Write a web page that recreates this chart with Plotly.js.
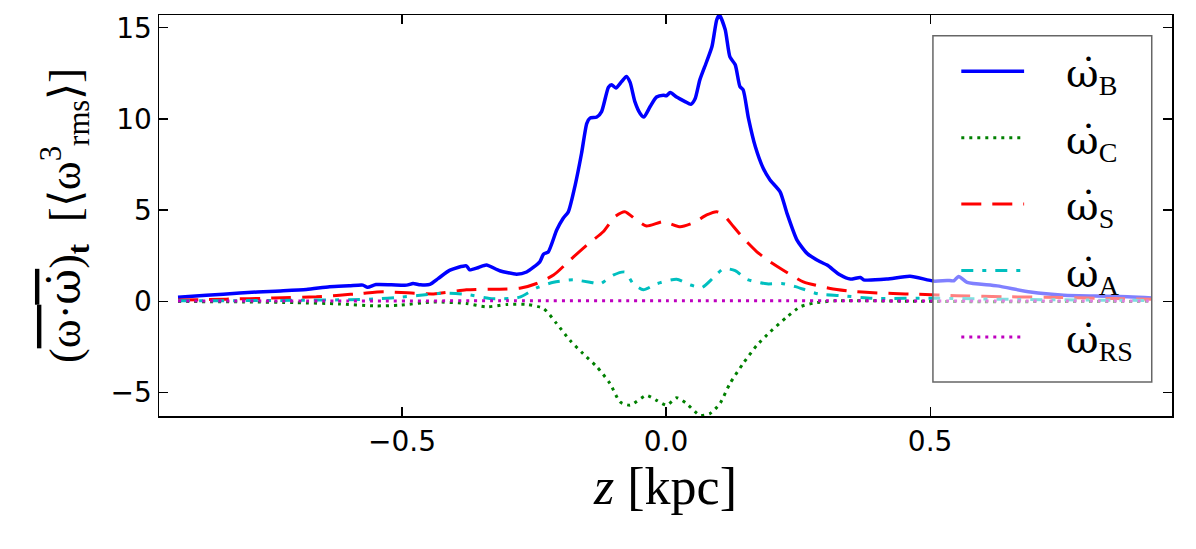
<!DOCTYPE html>
<html>
<head>
<meta charset="utf-8">
<script src="https://cdn.plot.ly/plotly-3.0.1.min.js"></script>
<style>
  html, body { margin: 0; padding: 0; background: #fff; }
  #graphe { width: 1196px; height: 549px; }
</style>
</head>
<body>
<div id="graphe"></div>
<script>
// valeurs : z en kpc, production en <omega_rms^3>
let z_B = [-0.924, -0.87, -0.807, -0.74, -0.681, -0.637, -0.60, -0.574, -0.565, -0.549, -0.52, -0.491, -0.479, -0.465, -0.447,
    -0.431, -0.409, -0.378, -0.372, -0.355, -0.340, -0.315, -0.283, -0.264, -0.239, -0.232, -0.223, -0.207, -0.195, -0.185,
    -0.172, -0.160, -0.150, -0.144, -0.131, -0.122, -0.109, -0.103, -0.095, -0.084, -0.075, -0.068, -0.059, -0.049, -0.042,
    -0.030, -0.018, -0.005, 0.001, 0.008, 0.020, 0.036, 0.047, 0.055, 0.064, 0.077, 0.087, 0.096, 0.101, 0.112, 0.121,
    0.131, 0.140, 0.146, 0.156, 0.169, 0.184, 0.197, 0.216, 0.229, 0.248, 0.267, 0.292, 0.305, 0.330, 0.349, 0.368, 0.374,
    0.418, 0.462, 0.507, 0.532, 0.545, 0.554, 0.570, 0.627, 0.690, 0.753, 0.848, 0.920]
let w_B = [0.22, 0.32, 0.45, 0.55, 0.64, 0.79, 0.84, 0.88, 0.76, 0.91, 0.90, 0.88, 0.97, 0.90, 0.92,
    1.25, 1.70, 1.94, 1.72, 1.85, 1.98, 1.67, 1.48, 1.60, 2.16, 2.58, 2.70, 3.90, 4.54, 4.90,
    6.37, 8.10, 9.76, 10.04, 10.10, 10.40, 11.74, 11.87, 11.70, 12.05, 12.33, 12.00, 10.95, 10.30, 10.10,
    10.68, 11.20, 11.30, 11.27, 11.45, 11.20, 10.95, 10.80, 11.10, 12.14, 13.15, 13.97, 15.44, 15.70, 14.90, 13.40,
    12.97, 11.77, 11.60, 10.04, 8.48, 7.29, 6.65, 6.00, 4.82, 3.35, 2.62, 2.16, 1.98, 1.43, 1.21, 1.30, 1.17,
    1.21, 1.37, 1.10, 1.14, 1.12, 1.36, 1.03, 0.84, 0.50, 0.33, 0.27, 0.18]

let z_C = [-0.924, -0.80, -0.70, -0.62, -0.55, -0.504, -0.44, -0.378, -0.34, -0.30, -0.264, -0.232, -0.207, -0.182, -0.157,
    -0.131, -0.106, -0.087, -0.068, -0.037, -0.018, 0.001, 0.020, 0.039, 0.064, 0.083, 0.102, 0.121, 0.146, 0.172,
    0.197, 0.229, 0.254, 0.279, 0.32, 0.45, 0.60, 0.75, 0.92]
let w_C = [-0.02, -0.04, -0.08, -0.15, -0.26, -0.22, -0.04, -0.13, -0.31, -0.18, -0.18, -0.40, -1.23, -2.15, -2.88,
    -3.60, -4.52, -5.53, -5.71, -5.17, -5.44, -5.71, -5.30, -5.62, -6.26, -6.17, -5.62, -4.52, -3.42, -2.42,
    -1.69, -0.86, -0.31, -0.11, 0.02, 0.00, -0.03, -0.02, -0.01]

let z_S = [-0.924, -0.833, -0.744, -0.662, -0.618, -0.577, -0.536, -0.49, -0.44, -0.378, -0.315, -0.277, -0.245, -0.213,
    -0.182, -0.150, -0.119, -0.097, -0.078, -0.056, -0.037, -0.005, 0.027, 0.052, 0.077, 0.096, 0.109, 0.128, 0.147,
    0.172, 0.197, 0.222, 0.260, 0.311, 0.349, 0.393, 0.43, 0.475, 0.55, 0.65, 0.75, 0.85, 0.92]
let w_S = [0.06, 0.11, 0.17, 0.24, 0.33, 0.42, 0.51, 0.46, 0.40, 0.62, 0.66, 0.71, 0.97, 1.43,
    2.25, 3.08, 3.81, 4.63, 4.91, 4.45, 4.12, 4.36, 4.08, 4.30, 4.73, 4.91, 4.73, 4.08, 3.44,
    2.71, 2.16, 1.70, 1.06, 0.70, 0.55, 0.46, 0.42, 0.38, 0.30, 0.24, 0.20, 0.14, 0.10]

let z_A = [-0.924, -0.80, -0.70, -0.60, -0.55, -0.504, -0.47, -0.422, -0.378, -0.327, -0.277, -0.245, -0.213, -0.176,
    -0.144, -0.125, -0.100, -0.078, -0.062, -0.043, -0.018, 0.020, 0.045, 0.068, 0.090, 0.109, 0.131, 0.153, 0.191,
    0.219, 0.245, 0.288, 0.336, 0.39, 0.51, 0.65, 0.80, 0.92]
let w_A = [0.02, 0.03, 0.05, 0.08, 0.12, 0.22, 0.31, 0.44, 0.37, 0.13, 0.22, 0.73, 1.04, 1.17,
    1.04, 0.95, 1.43, 1.60, 0.95, 0.62, 0.95, 1.20, 0.90, 0.75, 1.30, 1.78, 1.68, 1.20, 0.95,
    0.97, 0.80, 0.40, 0.29, 0.16, 0.16, 0.10, 0.06, 0.04]

let z_RS = [-0.924, -0.6, -0.3, 0.0, 0.3, 0.6, 0.924]
let w_RS = [0.01, 0.01, 0.02, 0.02, 0.02, 0.01, 0.01]

let omega_point = "<span style='font-family:DejaVu Serif'>ω̇</span>"
let indices = ["B", "C", "S", "A", "RS"]
let noms = indices.map(k => omega_point + "<sub>" + k + "</sub>")
let y_ticks = [-5, 0, 5, 10, 15]
let x_ticks = [-0.5, 0.0, 0.5]
let x_ticktext = ["−0.5", "0.0", "0.5"]

let series = [
    {x: z_B, y: w_B, color: "#0000ff", dash: "solid", width: 3.5},
    {x: z_C, y: w_C, color: "#008000", dash: "3px,5px", width: 3},
    {x: z_S, y: w_S, color: "#ff0000", dash: "20px,11px", width: 3},
    {x: z_A, y: w_A, color: "#00bfbf", dash: "12px,9px,4px,9px", width: 3},
    {x: z_RS, y: w_RS, color: "#bf00bf", dash: "3px,5px", width: 3}
]

let data = []
for (let i = 0; i < series.length; i++){
    let s = series[i]
    data.push({
        x: s.x, y: s.y, mode: "lines", type: "scatter", name: noms[i], showlegend: false,
        line: {color: s.color, dash: s.dash, width: s.width, shape: "spline", smoothing: 0.6}
    })
}

// legende dessinee a la main (echantillons de 63 px comme matplotlib)
let shapes = []
let annotations = []
let leg_x0 = 0.764, leg_x1 = 0.980, leg_y0 = 0.085, leg_y1 = 0.948
shapes.push({type: "rect", xref: "paper", yref: "paper", x0: leg_x0, x1: leg_x1, y0: leg_y0, y1: leg_y1,
    fillcolor: "rgba(255,255,255,0.5)", line: {color: "#666", width: 1.5}, layer: "above"})
for (let i = 0; i < series.length; i++){
    let s = series[i]
    let y = 0.860 - i*0.1658
    shapes.push({type: "line", xref: "paper", yref: "paper", x0: 0.792, x1: 0.854, y0: y, y1: y,
        line: {color: s.color, dash: s.dash, width: s.width}, layer: "above"})
    annotations.push({xref: "paper", yref: "paper", x: 0.893, y: y - 0.012, xanchor: "left", yanchor: "middle",
        text: noms[i], showarrow: false, font: {family: "Liberation Serif", size: 40, color: "#000"}})
}

let police_ticks = {family: "DejaVu Sans", size: 28, color: "#000"}

let layout = {
    width: 1196,
    height: 549,
    paper_bgcolor: "#fff",
    plot_bgcolor: "#fff",
    margin: {l: 159, r: 24, t: 15, b: 133},
    showlegend: false,
    shapes: shapes,
    annotations: annotations,
    xaxis: {
        range: [-0.96, 0.958],
        tickvals: x_ticks, ticktext: x_ticktext,
        ticks: "inside", ticklen: 9, tickwidth: 1.2, tickcolor: "#000",
        showline: true, linecolor: "#000", linewidth: 1.5, mirror: "ticks",
        showgrid: false, zeroline: false,
        tickfont: police_ticks,
        title: {text: "<i>z</i> [kpc]", font: {family: "Liberation Serif", size: 52, color: "#000"}, standoff: 8}
    },
    yaxis: {
        range: [-6.3, 15.7],
        tickvals: y_ticks,
        ticks: "inside", ticklen: 9, tickwidth: 1.2, tickcolor: "#000",
        showline: true, linecolor: "#000", linewidth: 1.5, mirror: "ticks",
        showgrid: false, zeroline: false,
        tickfont: police_ticks,
        title: {
            text: "(<span style='text-decoration:overline'>ω·" + omega_point + "</span>)<sub><b>t</b></sub>  [⟨ω<sup>3</sup><sub>rms</sub>⟩]",
            font: {family: "Liberation Serif", size: 44, color: "#000"}, standoff: 16
        }
    }
}

Plotly.newPlot("graphe", data, layout, {staticPlot: true})
</script>
</body>
</html>
